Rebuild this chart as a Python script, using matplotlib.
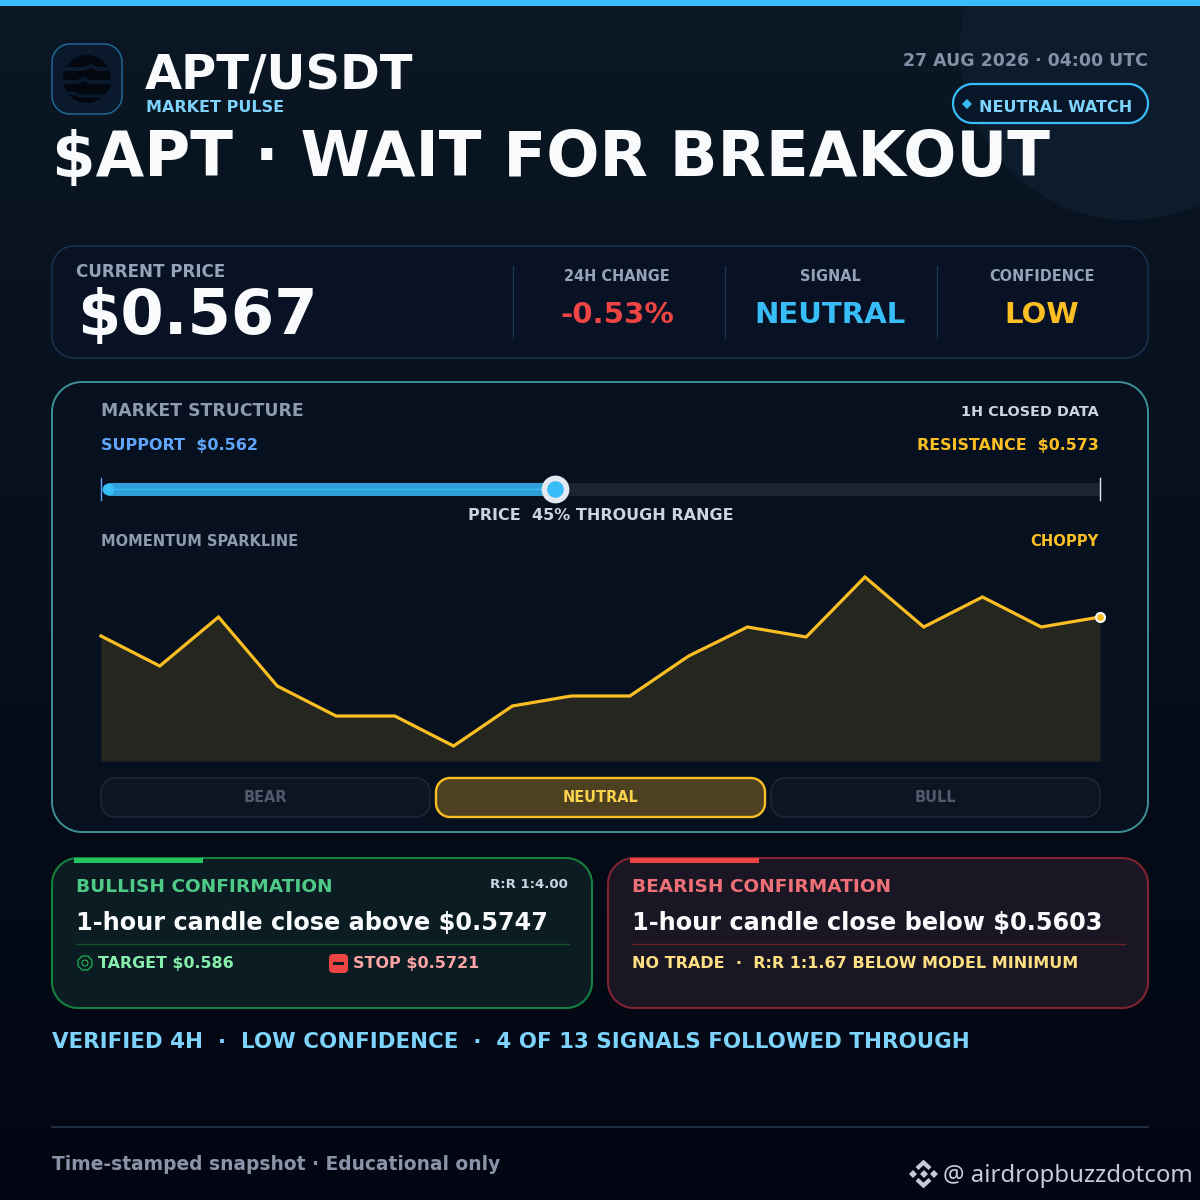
import numpy as np
import matplotlib
matplotlib.use("Agg")
import matplotlib.pyplot as plt
from matplotlib.patches import Polygon, Circle, Rectangle, RegularPolygon

# data
pair = "APT/USDT"
current_price = 0.567
support = 0.562
resistance = 0.573
momentum = [125, 95, 144, 75, 45, 45, 15, 55, 65, 65, 105, 134, 124, 184, 134, 164, 134, 144]
stats_labels = ["24H CHANGE", "SIGNAL", "CONFIDENCE"]
stats_values = ["-0.53%", "NEUTRAL", "LOW"]
stats_colors = ["#ef4444", "#38bdf8", "#fbbf24"]
state_labels = ["BEAR", "NEUTRAL", "BULL"]

W = 1200
plt.rcParams['font.family'] = ['DejaVu Sans']
fig = plt.figure(figsize=(12, 12), dpi=100)
ax = fig.add_axes([0, 0, 1, 1])
ax.set_xlim(0, W)
ax.set_ylim(W, 0)
ax.axis("off")


def txt(x, y, s, px, color, ha="left", weight="bold", family=None):
    # px = font height in pixels, y = baseline
    return ax.text(x, y, s, fontsize=px * 0.72, color=color, ha=ha, va="baseline",
                   fontweight=weight, family=family, zorder=10)


def box(x0, y0, x1, y1, r, fc, ec, lw=1.0, z=2):
    # FancyBboxPatch corners come out too square, so use real arcs
    pts = []
    corners = [(x1 - r, y0 + r, -90), (x1 - r, y1 - r, 0), (x0 + r, y1 - r, 90), (x0 + r, y0 + r, 180)]
    for cx, cy, a0 in corners:
        a = np.radians(np.linspace(a0, a0 + 90, 24))
        pts += list(zip(cx + r * np.cos(a), cy + r * np.sin(a)))
    p = Polygon(pts, closed=True, fc=fc, ec=ec, lw=lw, zorder=z)
    ax.add_patch(p)
    return p


# background
top = np.array([11, 23, 36]) / 255
bottom = np.array([2, 6, 18]) / 255
t = np.linspace(0, 1, 300).reshape(-1, 1, 1)
ax.imshow(top * (1 - t) + bottom * t, extent=(0, W, W, 0), aspect="auto", zorder=0)
ax.add_patch(Circle((1130, 50), 170, fc="#0c1c2c", ec="none", zorder=1))
ax.add_patch(Rectangle((0, 0), W, 6, fc="#38bdf8", ec="none", zorder=3))

# header
box(52, 44, 122, 114, 18, "#0a1a2c", "#1f6f9f", 1.0)
ax.add_patch(Circle((87, 79), 24, fc="#03070f", ec="none", zorder=3))
ax.plot([62, 84, 91, 97, 112], [69, 69, 66, 69, 69], color="#0a1a2c", lw=2.8, zorder=4)
ax.plot([62, 77, 83, 90, 112], [82, 82, 79, 82, 82], color="#0a1a2c", lw=2.8, zorder=4)
ax.plot([62, 73, 79, 112], [93, 93, 96, 96], color="#0a1a2c", lw=2.4, zorder=4)
txt(145, 90, pair, 48, "#f8fafc")
txt(146, 112, "MARKET PULSE", 16, "#7dd3fc")
txt(1148, 66, "27 AUG 2026 · 04:00 UTC", 17.4, "#8291a6", ha="right")
box(953, 84, 1148, 123, 19.5, "#081629", "#38bdf8", 1.6, z=4)
ax.plot([966.5], [103.5], marker="D", ms=5.5, color="#38bdf8", mew=0, zorder=6)
txt(979, 112, "NEUTRAL WATCH", 16, "#7dd3fc")
txt(52, 176, "$APT · WAIT FOR BREAKOUT", 62.7, "#f8fafc")

# price panel
box(52, 246, 1148, 358, 22, "#081224", "#1c3550", 1.0)
txt(76, 277, "CURRENT PRICE", 16.8, "#94a3b8")
txt(77, 334, f"${current_price:.3f}", 62.2, "#f8fafc")
for x_div in [513, 725, 937]:
    ax.plot([x_div, x_div], [266, 338], color="#1c3550", lw=0.9, zorder=3)
for x_c, lab, val, col in zip([617, 830, 1042], stats_labels, stats_values, stats_colors):
    txt(x_c, 281, lab, 14.5, "#94a3b8", ha="center")
    txt(x_c, 323, val, 29.3, col, ha="center")

# market structure panel
box(52, 382, 1148, 832, 30, "#07101f", "#3f8f96", 1.4)
txt(101, 416, "MARKET STRUCTURE", 17.3, "#8e9bae")
txt(1099, 416, "1H CLOSED DATA", 14.4, "#cbd5e1", ha="right")
txt(101, 450, f"SUPPORT  ${support:.3f}", 16, "#60a5fa")
txt(1099, 450, f"RESISTANCE  ${resistance:.3f}", 15.85, "#fbbf24", ha="right")

# range bar, x scale is price
bar = fig.add_axes([101 / W, 1 - 500 / W, 999 / W, 22 / W])
bar.set_xlim(support, resistance)
bar.set_ylim(-1, 1)
bar.axis("off")
bar.patch.set_alpha(0)
pad = (resistance - support) * 0.007
bar.plot([support + pad, resistance], [0, 0], color="#1a2433", lw=9.4, solid_capstyle="butt")
bar.plot([support + pad, current_price], [0, 0], color="#2f9fd8", lw=9.4, solid_capstyle="butt")
bar.plot([support + pad, current_price], [0, 0], color="#38bdf8", lw=1.0)
bar.plot([support, support], [-1, 1], color="#60a5fa", lw=1.0, clip_on=False)
bar.plot([resistance, resistance], [-1, 1], color="#e2e8f0", lw=1.0, clip_on=False)
bar.plot([support + pad], [0], "o", ms=8.5, color="#38bdf8", mew=0, clip_on=False)
bar.plot([current_price], [0], "o", ms=16, color="#38bdf8", mec="#e2e8f0", mew=4, clip_on=False, zorder=5)
pct = round((current_price - support) / (resistance - support) * 100)
txt(601, 520, f"PRICE  {pct}% THROUGH RANGE", 16, "#cbd5e1", ha="center")
txt(101, 546, "MOMENTUM SPARKLINE", 14.65, "#8e9bae")
txt(1099, 546, "CHOPPY", 14.8, "#fbbf24", ha="right")

# sparkline
sp = fig.add_axes([101 / W, 1 - 761 / W, 999 / W, 200 / W])
sp.set_xlim(0, len(momentum) - 1)
sp.set_ylim(0, 200)
sp.axis("off")
sp.patch.set_alpha(0)
xs = np.arange(len(momentum))
sp.fill_between(xs, momentum, 0, color="#25261f", lw=0)
sp.plot(xs, momentum, color="#fbbf24", lw=2.3, solid_joinstyle="miter", clip_on=False)
sp.plot(xs[-1], momentum[-1], "o", ms=6.5, color="#fbbf24", mec="#f8fafc", mew=1.5, clip_on=False)

# state buttons
for (x0, x1), lab in zip([(101, 430), (436, 765), (771, 1100)], state_labels):
    if lab == "NEUTRAL":
        box(x0, 778, x1, 817, 14, "#4d4122", "#fbbf24", 1.7, z=4)
        txt((x0 + x1) / 2, 802, lab, 14.5, "#fcd34d", ha="center")
    else:
        box(x0, 778, x1, 817, 14, "#0d1422", "#1e2b3c", 1.0, z=4)
        txt((x0 + x1) / 2, 802, lab, 14.5, "#4f5b6d", ha="center")

# confirmation cards
box(52, 858, 592, 1008, 26, "#0b1c23", "#17803f", 1.5)
ax.add_patch(Rectangle((74, 858), 129, 5, fc="#22c55e", ec="none", zorder=4))
txt(76, 892, "BULLISH CONFIRMATION", 18.5, "#4fca87")
txt(568, 888, "R:R 1:4.00", 13.3, "#cbd5e1", ha="right")
txt(76, 930, "1-hour candle close above $0.5747", 24, "#f8fafc")
ax.plot([76, 569], [944, 944], color="#14532d", lw=1.0, zorder=3)
ax.add_patch(RegularPolygon((85, 963), 8, radius=7.5, orientation=np.pi / 8, fc="none", ec="#22c55e", lw=0.8, zorder=4))
ax.add_patch(Circle((85, 963), 3, fc="none", ec="#22c55e", lw=0.7, zorder=4))
txt(98, 968, "TARGET $0.586", 15.9, "#86efac")
box(329, 954, 348, 973, 4, "#ef4444", "none", z=4)
ax.add_patch(Rectangle((333, 962), 11, 3, fc="#0b1c23", ec="none", zorder=5))
txt(353, 968, "STOP $0.5721", 16, "#fca5a5")

box(608, 858, 1148, 1008, 26, "#1b1624", "#80242f", 1.5)
ax.add_patch(Rectangle((630, 858), 129, 5, fc="#ef4444", ec="none", zorder=4))
txt(632, 892, "BEARISH CONFIRMATION", 18.5, "#f07077")
txt(632, 930, "1-hour candle close below $0.5603", 24, "#f8fafc")
ax.plot([632, 1125], [944, 944], color="#6b2226", lw=1.0, zorder=3)
txt(632, 968, "NO TRADE  ·  R:R 1:1.67 BELOW MODEL MINIMUM", 16, "#fde082")

txt(52, 1048, "VERIFIED 4H  ·  LOW CONFIDENCE  ·  4 OF 13 SIGNALS FOLLOWED THROUGH", 21.35, "#7dd3fc")

# footer
ax.plot([52, 1148], [1127, 1127], color="#243248", lw=1.3, zorder=3)
txt(52, 1170, "Time-stamped snapshot · Educational only", 18.6, "#8a94a8")
# exchange logo
logo = "#c5ccd8"
ax.plot([917, 923.5, 930], [1168.5, 1162.5, 1168.5], color=logo, lw=3.0, zorder=6, solid_joinstyle="miter", solid_capstyle="butt")
ax.plot([917, 923.5, 930], [1179.5, 1185.5, 1179.5], color=logo, lw=3.0, zorder=6, solid_joinstyle="miter", solid_capstyle="butt")
for x_d in [913, 923.5, 934]:
    ax.plot([x_d], [1174], marker="D", ms=3.8, color=logo, mew=0, zorder=6)
txt(943, 1182, "@ airdropbuzzdotcom", 23.95, logo, weight="normal", family="Noto Sans")

fig.savefig("out.png", dpi=100)
